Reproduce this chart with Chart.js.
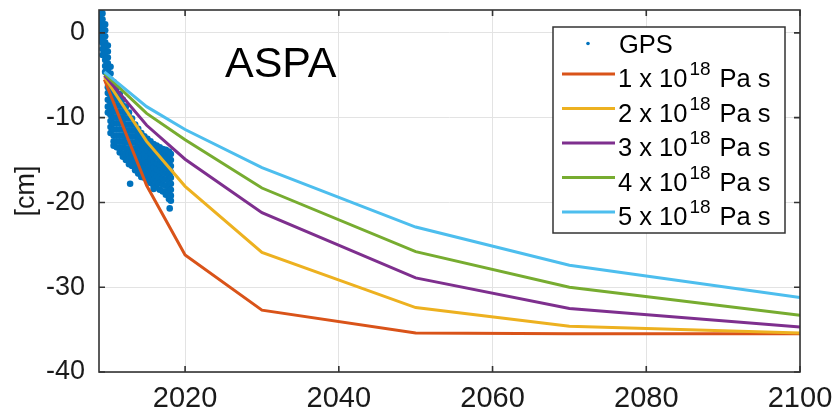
<!DOCTYPE html>
<html>
<head>
<meta charset="utf-8">
<script src="https://cdn.jsdelivr.net/npm/chart.js@4.4.1/dist/chart.umd.min.js"></script>
<style>
  body { margin: 0; background: #fff; }
  canvas { display: block; }
</style>
</head>
<body>
<canvas id="aspaChart" width="836" height="409" style="width:836px;height:409px"></canvas>
<script>
// axis ticks
const xTicks = [2020, 2040, 2060, 2080, 2100];
const yTicks = [-40, -30, -20, -10, 0];

// model curves, one per viscosity (cm)
const modelYears = [2009.5, 2015, 2020, 2030, 2050, 2070, 2100];
const visc1 = [-5.5, -18.0, -26.2, -32.7, -35.4, -35.5, -35.5];
const visc2 = [-5.2, -12.8, -18.1, -25.9, -32.4, -34.6, -35.4];
const visc3 = [-5.0, -10.9, -14.9, -21.2, -28.9, -32.5, -34.7];
const visc4 = [-4.8, -9.5, -12.6, -18.3, -25.8, -30.0, -33.3];
const visc5 = [-4.6, -8.7, -11.4, -15.9, -22.9, -27.4, -31.2];
const viscFactors = ['1', '2', '3', '4', '5'];

// GPS time series (cm)
const gpsYears = [2008.9, 2009.25, 2009.6, 2009.95, 2010.3, 2010.7, 2011.1, 2011.5, 2011.9,
  2012.3, 2012.7, 2013.1, 2013.5, 2013.9, 2014.3, 2014.7, 2015.1, 2015.5, 2015.9,
  2016.3, 2016.7, 2017.1, 2017.5, 2017.9, 2018.15];
const gpsCm = [
  [2.6, 1.9, 1.2, 0.5, -0.2, -0.9],
  [2.3, 1.6, 0.9, 0.2, -0.5, -1.2, -1.9, -2.6],
  [1.0, 0.3, -0.4, -1.1, -1.8, -2.5, -3.2, -3.9, -4.6],
  [-1.5, -2.2, -2.9, -3.6, -4.3, -5.0, -5.7, -6.4, -7.1, -7.9, -8.7, -9.4],
  [-4.0, -4.8, -5.5, -6.2, -6.9, -7.6, -8.3, -9.0, -9.7, -10.4, -11.1, -11.8],
  [-5.8, -6.5, -7.2, -7.9, -8.6, -9.3, -10.0, -10.7, -11.4, -12.1, -12.8, -13.3],
  [-6.5, -7.2, -7.9, -8.6, -9.3, -10.0, -10.7, -11.4, -12.1, -12.8, -13.5],
  [-7.2, -7.9, -8.6, -9.3, -10.0, -10.7, -11.4, -12.1, -12.8, -13.5, -14.1],
  [-7.9, -8.6, -9.3, -10.0, -10.7, -11.4, -12.1, -12.8, -13.5, -14.2, -14.6],
  [-8.7, -9.4, -10.1, -10.8, -11.5, -12.2, -12.9, -13.6, -14.3, -15.0],
  [-9.4, -10.1, -10.8, -11.5, -12.2, -12.9, -13.6, -14.3, -15.0, -15.5],
  [-10.1, -10.8, -11.5, -12.2, -12.9, -13.6, -14.3, -15.0, -15.7],
  [-10.8, -11.5, -12.2, -12.9, -13.6, -14.3, -15.0, -15.7, -16.2],
  [-11.3, -12.0, -12.7, -13.4, -14.1, -14.8, -15.5, -16.2, -16.6],
  [-11.8, -12.5, -13.2, -13.9, -14.6, -15.3, -16.0, -16.7, -17.0],
  [-12.2, -12.9, -13.6, -14.3, -15.0, -15.7, -16.4, -17.1],
  [-12.5, -13.2, -13.9, -14.6, -15.3, -16.0, -16.7, -17.4],
  [-12.8, -13.5, -14.2, -14.9, -15.6, -16.3, -17.0, -17.7],
  [-13.1, -13.8, -14.5, -15.2, -15.9, -16.6, -17.3, -18.0],
  [-13.3, -14.0, -14.7, -15.4, -16.1, -16.8, -17.5, -18.2],
  [-13.5, -14.2, -14.9, -15.6, -16.3, -17.0, -17.7, -18.5],
  [-13.7, -14.4, -15.1, -15.8, -16.5, -17.2, -17.9, -18.7],
  [-13.8, -14.5, -15.2, -15.9, -16.6, -17.3, -18.0, -18.7, -19.1],
  [-14.0, -14.7, -15.4, -16.1, -16.8, -17.5, -18.2, -18.9, -19.6],
  [-14.3, -15.0, -15.7, -16.4, -17.1, -17.8, -18.5, -19.2, -19.8]
];
const gpsOutlierYears = [2012.85, 2015.9, 2018.0];
const gpsOutlierCm = [-17.8, -18.4, -20.7];

const FONT = '"Liberation Sans", Arial, Helvetica, sans-serif';
const colors = ['#D95319', '#EDB120', '#7E2F8E', '#77AC30', '#4DBEEE'];
const gpsColor = '#0072BD';

let gpsPoints = [];
gpsYears.forEach(function (t, i) {
  gpsCm[i].forEach(function (v) {
    gpsPoints.push({ x: t, y: v });
  });
});
gpsOutlierYears.forEach(function (t, i) {
  gpsPoints.push({ x: t, y: gpsOutlierCm[i] });
});

function curve(values) {
  return modelYears.map(function (t, i) {
    return { x: t, y: values[i] };
  });
}

const models = [visc1, visc2, visc3, visc4, visc5];
let datasets = [{
  label: 'GPS',
  data: gpsPoints,
  pointRadius: 3.3,
  pointBackgroundColor: gpsColor,
  pointBorderWidth: 0,
  showLine: false,
  order: 10,
}];
models.forEach(function (m, i) {
  datasets.push({
    label: viscFactors[i] + ' x 10^18 Pa s',
    data: curve(m),
    showLine: true,
    borderColor: colors[i],
    borderWidth: 3,
    pointRadius: 0,
    tension: 0,
    order: 5 - i,
  });
});

// frame with inward ticks, title and legend, drawn MATLAB style
const decorations = {
  id: 'decorations',
  afterDatasetsDraw(chart) {
    const ctx = chart.ctx;
    const a = chart.chartArea;
    const xs = chart.scales.x;
    const ys = chart.scales.y;
    ctx.save();
    ctx.strokeStyle = '#333333';
    ctx.lineWidth = 1.6;
    ctx.strokeRect(a.left, a.top, a.right - a.left, a.bottom - a.top);
    ctx.beginPath();
    xTicks.forEach(function (t) {
      const px = xs.getPixelForValue(t);
      ctx.moveTo(px, a.bottom); ctx.lineTo(px, a.bottom - 6);
      ctx.moveTo(px, a.top); ctx.lineTo(px, a.top + 6);
    });
    yTicks.forEach(function (t) {
      const py = ys.getPixelForValue(t);
      ctx.moveTo(a.left, py); ctx.lineTo(a.left + 6, py);
      ctx.moveTo(a.right, py); ctx.lineTo(a.right - 6, py);
    });
    ctx.stroke();

    // station name
    ctx.fillStyle = '#000';
    ctx.font = '43px ' + FONT;
    ctx.textBaseline = 'alphabetic';
    ctx.textAlign = 'left';
    ctx.fillText('ASPA', 225, 77);

    // legend
    const box = { x: 553, y: 27, w: 232, h: 206 };
    ctx.fillStyle = '#fff';
    ctx.fillRect(box.x, box.y, box.w, box.h);
    ctx.strokeStyle = '#333333';
    ctx.lineWidth = 1.5;
    ctx.strokeRect(box.x, box.y, box.w, box.h);

    const step = 34.5;
    const base0 = 52.5;
    ctx.fillStyle = gpsColor;
    ctx.beginPath();
    ctx.arc(588, 43.5, 1.8, 0, Math.PI * 2);
    ctx.fill();
    ctx.fillStyle = '#000';
    ctx.font = '25.5px ' + FONT;
    ctx.fillText('GPS', 619, base0);

    viscFactors.forEach(function (f, i) {
      const base = base0 + step * (i + 1);
      ctx.strokeStyle = colors[i];
      ctx.lineWidth = 3;
      ctx.beginPath();
      ctx.moveTo(562, base - 13);
      ctx.lineTo(615, base - 13);
      ctx.stroke();
      ctx.fillStyle = '#000';
      ctx.font = '25.5px ' + FONT;
      const main = f + ' x 10';
      ctx.fillText(main, 618, base);
      let xx = 618 + ctx.measureText(main).width + 2;
      ctx.font = '19px ' + FONT;
      ctx.fillText('18', xx, base - 12);
      xx += ctx.measureText('18').width + 9;
      ctx.font = '25.5px ' + FONT;
      ctx.fillText('Pa s', xx, base);
    });
    ctx.restore();
  }
};

const ctx = document.getElementById('aspaChart').getContext('2d');
const aspaChart = new Chart(ctx, {
  type: 'scatter',
  data: { datasets: datasets },
  options: {
    responsive: false,
    animation: false,
    layout: { padding: { left: 0, right: 36, top: 10, bottom: 0 } },
    plugins: {
      legend: { display: false },
      tooltip: { enabled: false },
    },
    scales: {
      x: {
        type: 'linear',
        min: 2008.8,
        max: 2100,
        afterBuildTicks: function (scale) {
          scale.ticks = xTicks.map(function (v) { return { value: v }; });
        },
        afterFit: function (scale) {
          scale.height = 37;
          scale.paddingLeft = 0;
          scale.paddingRight = 0;
        },
        grid: { color: '#e3e3e3', lineWidth: 1, drawTicks: false },
        border: { display: false },
        ticks: {
          padding: 10,
          color: '#1a1a1a',
          font: { family: FONT, size: 29 },
          maxRotation: 0,
          callback: function (v) { return String(v); },
        },
      },
      y: {
        min: -40,
        max: 2.7,
        afterBuildTicks: function (scale) {
          scale.ticks = yTicks.map(function (v) { return { value: v }; });
        },
        afterFit: function (scale) {
          scale.width = 99;
          scale.paddingTop = 0;
          scale.paddingBottom = 0;
        },
        grid: { color: '#e3e3e3', lineWidth: 1, drawTicks: false },
        border: { display: false },
        ticks: {
          padding: 14,
          color: '#1a1a1a',
          font: { family: FONT, size: 27 },
          callback: function (v) { return String(v); },
        },
        title: {
          display: true,
          text: '[cm]',
          color: '#1a1a1a',
          font: { family: FONT, size: 27 },
          padding: { top: 10, bottom: 0 },
        },
      },
    },
  },
  plugins: [decorations],
});
</script>
</body>
</html>
